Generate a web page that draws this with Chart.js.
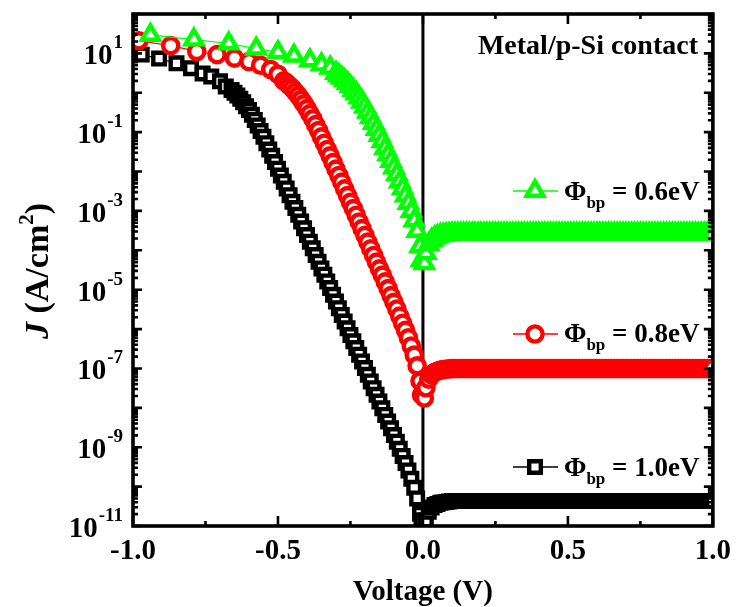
<!DOCTYPE html>
<html>
<head>
<meta charset="utf-8">
<script src="https://cdn.jsdelivr.net/npm/chart.js@4.4.1/dist/chart.umd.min.js"></script>
<style>
  html, body { margin: 0; padding: 0; background: #ffffff; }
  #wrap { width: 739px; height: 607px; position: relative; }
</style>
</head>
<body>
<div id="wrap"><canvas id="jv"></canvas></div>
<script>
// Current density J (A/cm^2) versus applied voltage (V) for a metal/p-Si contact,
// three hole barrier heights. Forward-side points (V < 0) per curve:
const vGreen = [-0.94, -0.79, -0.67, -0.575, -0.50, -0.445, -0.39, -0.35, -0.32,
  -0.30, -0.29, -0.28, -0.27, -0.26, -0.25, -0.24, -0.23, -0.22, -0.21,
  -0.20, -0.19, -0.18, -0.17, -0.16, -0.15, -0.14, -0.13, -0.12, -0.11,
  -0.10, -0.09, -0.08, -0.07, -0.06, -0.05, -0.04, -0.03, -0.02, -0.01,
  -0.005, 0.005];
const jGreen = [29.5, 22.4, 17.8, 13.2, 10.7, 8.7, 6.6, 5.2, 4.3,
  3.16, 2.75, 2.40, 2.04, 1.74, 1.45, 1.17, 0.955, 0.759, 0.589,
  0.447, 0.331, 0.240, 0.170, 0.120, 8.51e-2, 5.89e-2, 3.98e-2, 2.75e-2, 1.86e-2,
  1.26e-2, 8.51e-3, 5.62e-3, 3.72e-3, 2.45e-3, 1.58e-3, 9.77e-4, 5.75e-4, 3.09e-4, 1.26e-4,
  5.62e-5, 4.68e-5];

const vRed = [-0.98, -0.87, -0.78, -0.71, -0.65, -0.60, -0.56, -0.525, -0.50,
  -0.48, -0.47, -0.46, -0.45, -0.44, -0.43, -0.42, -0.41,
  -0.40, -0.39, -0.38, -0.37, -0.36, -0.35, -0.34, -0.33, -0.32, -0.31,
  -0.30, -0.29, -0.28, -0.27, -0.26, -0.25, -0.24, -0.23, -0.22, -0.21,
  -0.20, -0.19, -0.18, -0.17, -0.16, -0.15, -0.14, -0.13, -0.12, -0.11,
  -0.10, -0.09, -0.08, -0.07, -0.06, -0.05, -0.04, -0.03, -0.02, -0.01,
  -0.005, 0.005];
const jRed = [20.9, 15.8, 11.2, 9.3, 7.6, 6.2, 5.0, 3.9, 2.95,
  2.0, 1.78, 1.51, 1.29, 1.05, 0.85, 0.676, 0.525,
  0.398, 0.295, 0.219, 0.155, 0.110, 7.59e-2, 5.25e-2, 3.63e-2, 2.51e-2, 1.70e-2,
  1.15e-2, 7.94e-3, 5.37e-3, 3.63e-3, 2.45e-3, 1.66e-3, 1.15e-3, 7.76e-4, 5.25e-4, 3.55e-4,
  2.40e-4, 1.62e-4, 1.10e-4, 7.41e-5, 5.01e-5, 3.39e-5, 2.34e-5, 1.58e-5, 1.07e-5, 7.08e-6,
  4.79e-6, 3.24e-6, 2.14e-6, 1.41e-6, 9.33e-7, 6.03e-7, 3.72e-7, 2.19e-7, 1.17e-7, 4.79e-8,
  2.14e-8, 1.78e-8];

const vBlack = [-0.97, -0.91, -0.85, -0.80, -0.76, -0.73, -0.70, -0.68, -0.66,
  -0.65, -0.64, -0.63, -0.62, -0.61,
  -0.60, -0.59, -0.58, -0.57, -0.56, -0.55, -0.54, -0.53, -0.52, -0.51,
  -0.50, -0.49, -0.48, -0.47, -0.46, -0.45, -0.44, -0.43, -0.42, -0.41,
  -0.40, -0.39, -0.38, -0.37, -0.36, -0.35, -0.34, -0.33, -0.32, -0.31,
  -0.30, -0.29, -0.28, -0.27, -0.26, -0.25, -0.24, -0.23, -0.22, -0.21,
  -0.20, -0.19, -0.18, -0.17, -0.16, -0.15, -0.14, -0.13, -0.12, -0.11,
  -0.10, -0.09, -0.08, -0.07, -0.06, -0.05, -0.04, -0.03, -0.02, -0.01,
  -0.005];
const jBlack = [9.3, 7.4, 5.6, 4.2, 3.1, 2.6, 1.95, 1.45, 1.17,
  1.0, 0.85, 0.71, 0.575, 0.457,
  0.363, 0.275, 0.204, 0.148, 0.107, 7.59e-2, 5.25e-2, 3.63e-2, 2.51e-2, 1.74e-2,
  1.18e-2, 7.94e-3, 5.50e-3, 3.72e-3, 2.51e-3, 1.70e-3, 1.18e-3, 7.94e-4, 5.37e-4, 3.63e-4,
  2.45e-4, 1.66e-4, 1.12e-4, 7.59e-5, 5.13e-5, 3.47e-5, 2.40e-5, 1.62e-5, 1.10e-5, 7.41e-6,
  5.01e-6, 3.39e-6, 2.29e-6, 1.55e-6, 1.05e-6, 7.08e-7, 4.90e-7, 3.31e-7, 2.24e-7, 1.51e-7,
  1.02e-7, 6.92e-8, 4.68e-8, 3.16e-8, 2.14e-8, 1.45e-8, 9.77e-9, 6.61e-9, 4.47e-9, 3.02e-9,
  2.04e-9, 1.38e-9, 9.12e-10, 6.03e-10, 3.98e-10, 2.57e-10, 1.58e-10, 9.33e-11, 5.01e-11, 2.04e-11,
  1.4e-11];

// Reverse side (V > 0), shared voltage grid
const vFlat = [
  0.01, 0.02, 0.03, 0.04, 0.05, 0.06, 0.07, 0.08, 0.09, 0.10,
  0.11, 0.12, 0.13, 0.14, 0.15, 0.16, 0.17, 0.18, 0.19, 0.20,
  0.21, 0.22, 0.23, 0.24, 0.25, 0.26, 0.27, 0.28, 0.29, 0.30,
  0.31, 0.32, 0.33, 0.34, 0.35, 0.36, 0.37, 0.38, 0.39, 0.40,
  0.41, 0.42, 0.43, 0.44, 0.45, 0.46, 0.47, 0.48, 0.49, 0.50,
  0.51, 0.52, 0.53, 0.54, 0.55, 0.56, 0.57, 0.58, 0.59, 0.60,
  0.61, 0.62, 0.63, 0.64, 0.65, 0.66, 0.67, 0.68, 0.69, 0.70,
  0.71, 0.72, 0.73, 0.74, 0.75, 0.76, 0.77, 0.78, 0.79, 0.80,
  0.81, 0.82, 0.83, 0.84, 0.85, 0.86, 0.87, 0.88, 0.89, 0.90,
  0.91, 0.92, 0.93, 0.94, 0.95, 0.96, 0.97, 0.98, 0.99, 1.00];
const jGreenFlat = [
  8.51e-5, 1.41e-4, 1.82e-4, 2.09e-4, 2.24e-4, 2.40e-4, 2.45e-4, 2.51e-4, 2.57e-4, 2.6e-4,
  2.6e-4, 2.6e-4, 2.6e-4, 2.6e-4, 2.6e-4, 2.6e-4, 2.6e-4, 2.6e-4, 2.6e-4, 2.6e-4,
  2.6e-4, 2.6e-4, 2.6e-4, 2.6e-4, 2.6e-4, 2.6e-4, 2.6e-4, 2.6e-4, 2.6e-4, 2.6e-4,
  2.6e-4, 2.6e-4, 2.6e-4, 2.6e-4, 2.6e-4, 2.6e-4, 2.6e-4, 2.6e-4, 2.6e-4, 2.6e-4,
  2.6e-4, 2.6e-4, 2.6e-4, 2.6e-4, 2.6e-4, 2.6e-4, 2.6e-4, 2.6e-4, 2.6e-4, 2.6e-4,
  2.6e-4, 2.6e-4, 2.6e-4, 2.6e-4, 2.6e-4, 2.6e-4, 2.6e-4, 2.6e-4, 2.6e-4, 2.6e-4,
  2.6e-4, 2.6e-4, 2.6e-4, 2.6e-4, 2.6e-4, 2.6e-4, 2.6e-4, 2.6e-4, 2.6e-4, 2.6e-4,
  2.6e-4, 2.6e-4, 2.6e-4, 2.6e-4, 2.6e-4, 2.6e-4, 2.6e-4, 2.6e-4, 2.6e-4, 2.6e-4,
  2.6e-4, 2.6e-4, 2.6e-4, 2.6e-4, 2.6e-4, 2.6e-4, 2.6e-4, 2.6e-4, 2.6e-4, 2.6e-4,
  2.6e-4, 2.6e-4, 2.6e-4, 2.6e-4, 2.6e-4, 2.6e-4, 2.6e-4, 2.6e-4, 2.6e-4, 2.6e-4];
const jRedFlat = [
  3.24e-8, 5.37e-8, 6.92e-8, 7.94e-8, 8.51e-8, 9.12e-8, 9.33e-8, 9.55e-8, 9.77e-8, 1.0e-7,
  1.0e-7, 1.0e-7, 1.0e-7, 1.0e-7, 1.0e-7, 1.0e-7, 1.0e-7, 1.0e-7, 1.0e-7, 1.0e-7,
  1.0e-7, 1.0e-7, 1.0e-7, 1.0e-7, 1.0e-7, 1.0e-7, 1.0e-7, 1.0e-7, 1.0e-7, 1.0e-7,
  1.0e-7, 1.0e-7, 1.0e-7, 1.0e-7, 1.0e-7, 1.0e-7, 1.0e-7, 1.0e-7, 1.0e-7, 1.0e-7,
  1.0e-7, 1.0e-7, 1.0e-7, 1.0e-7, 1.0e-7, 1.0e-7, 1.0e-7, 1.0e-7, 1.0e-7, 1.0e-7,
  1.0e-7, 1.0e-7, 1.0e-7, 1.0e-7, 1.0e-7, 1.0e-7, 1.0e-7, 1.0e-7, 1.0e-7, 1.0e-7,
  1.0e-7, 1.0e-7, 1.0e-7, 1.0e-7, 1.0e-7, 1.0e-7, 1.0e-7, 1.0e-7, 1.0e-7, 1.0e-7,
  1.0e-7, 1.0e-7, 1.0e-7, 1.0e-7, 1.0e-7, 1.0e-7, 1.0e-7, 1.0e-7, 1.0e-7, 1.0e-7,
  1.0e-7, 1.0e-7, 1.0e-7, 1.0e-7, 1.0e-7, 1.0e-7, 1.0e-7, 1.0e-7, 1.0e-7, 1.0e-7,
  1.0e-7, 1.0e-7, 1.0e-7, 1.0e-7, 1.0e-7, 1.0e-7, 1.0e-7, 1.0e-7, 1.0e-7, 1.0e-7];
const jBlackFlat = [
  1.38e-11, 2.29e-11, 2.95e-11, 3.39e-11, 3.63e-11, 3.89e-11, 3.98e-11, 4.07e-11, 4.17e-11, 4.3e-11,
  4.3e-11, 4.3e-11, 4.3e-11, 4.3e-11, 4.3e-11, 4.3e-11, 4.3e-11, 4.3e-11, 4.3e-11, 4.3e-11,
  4.3e-11, 4.3e-11, 4.3e-11, 4.3e-11, 4.3e-11, 4.3e-11, 4.3e-11, 4.3e-11, 4.3e-11, 4.3e-11,
  4.3e-11, 4.3e-11, 4.3e-11, 4.3e-11, 4.3e-11, 4.3e-11, 4.3e-11, 4.3e-11, 4.3e-11, 4.3e-11,
  4.3e-11, 4.3e-11, 4.3e-11, 4.3e-11, 4.3e-11, 4.3e-11, 4.3e-11, 4.3e-11, 4.3e-11, 4.3e-11,
  4.3e-11, 4.3e-11, 4.3e-11, 4.3e-11, 4.3e-11, 4.3e-11, 4.3e-11, 4.3e-11, 4.3e-11, 4.3e-11,
  4.3e-11, 4.3e-11, 4.3e-11, 4.3e-11, 4.3e-11, 4.3e-11, 4.3e-11, 4.3e-11, 4.3e-11, 4.3e-11,
  4.3e-11, 4.3e-11, 4.3e-11, 4.3e-11, 4.3e-11, 4.3e-11, 4.3e-11, 4.3e-11, 4.3e-11, 4.3e-11,
  4.3e-11, 4.3e-11, 4.3e-11, 4.3e-11, 4.3e-11, 4.3e-11, 4.3e-11, 4.3e-11, 4.3e-11, 4.3e-11,
  4.3e-11, 4.3e-11, 4.3e-11, 4.3e-11, 4.3e-11, 4.3e-11, 4.3e-11, 4.3e-11, 4.3e-11, 4.3e-11];

const barrierLabels = ['0.6eV', '0.8eV', '1.0eV'];
const xTickValues = [-1, -0.75, -0.5, -0.25, 0, 0.25, 0.5, 0.75, 1];
const xTickLabels = ['-1.0', '', '-0.5', '', '0.0', '', '0.5', '', '1.0'];
const yLabelExponents = [1, -1, -3, -5, -7, -9, -11];
const noteText = 'Metal/p-Si contact';

const FONT = '"Liberation Serif", "Times New Roman", Times, serif';
const GREEN = '#00ff00', RED = '#ff0000', BLACK = '#000000';
const MARK_W = 4.4;

function toPoints(v, j) { return v.map((x, i) => ({ x: x, y: j[i] })); }

// y tick marks: every decade plus 2..9 multiples
const yTickValues = [];
for (let e = -11; e <= 2; e++) {
  for (let k = 1; k <= 9; k++) {
    const val = k * Math.pow(10, e);
    if (val <= 1.0001e2) yTickValues.push({ value: val, major: k === 1 });
  }
}

const markers = [
  { style: 'triangle', color: GREEN, radius: 9.6, y: 191, base: 200 },
  { style: 'circle', color: RED, radius: 7.6, y: 334, base: 342 },
  { style: 'rect', color: BLACK, radius: 8.2, y: 467, base: 476 }
];

function markerPath(ctx, style, x, y, r) {
  ctx.beginPath();
  if (style === 'circle') {
    ctx.arc(x, y, r, 0, Math.PI * 2);
  } else if (style === 'rect') {
    const s = Math.SQRT1_2 * r;
    ctx.rect(x - s, y - s, 2 * s, 2 * s);
  } else {
    let a = 0;
    ctx.moveTo(x + Math.sin(a) * r, y - Math.cos(a) * r);
    a += 2 * Math.PI / 3;
    ctx.lineTo(x + Math.sin(a) * r, y - Math.cos(a) * r);
    a += 2 * Math.PI / 3;
    ctx.lineTo(x + Math.sin(a) * r, y - Math.cos(a) * r);
    ctx.closePath();
  }
}

const framePlugin = {
  id: 'originFrame',
  beforeDatasetsDraw(chart) {
    const { ctx, chartArea: a, scales: { x } } = chart;
    const px = x.getPixelForValue(0);
    ctx.save();
    ctx.strokeStyle = BLACK;
    ctx.lineWidth = 3;
    ctx.beginPath();
    ctx.moveTo(px, a.top);
    ctx.lineTo(px, a.bottom);
    ctx.stroke();
    ctx.restore();
  },
  afterDatasetsDraw(chart) {
    const { ctx, chartArea: a, scales: { x, y } } = chart;
    ctx.save();
    ctx.strokeStyle = BLACK;
    ctx.lineCap = 'butt';
    // inward tick marks on all four sides
    ctx.lineWidth = 2.6;
    yTickValues.forEach(t => {
      const py = y.getPixelForValue(t.value);
      const len = t.major ? 9 : 5;
      ctx.beginPath();
      ctx.moveTo(a.left, py); ctx.lineTo(a.left + len, py);
      ctx.moveTo(a.right, py); ctx.lineTo(a.right - len, py);
      ctx.stroke();
    });
    xTickValues.forEach((v, i) => {
      const px = x.getPixelForValue(v);
      const len = xTickLabels[i] ? 10 : 5;
      ctx.beginPath();
      ctx.moveTo(px, a.bottom); ctx.lineTo(px, a.bottom - len);
      ctx.moveTo(px, a.top); ctx.lineTo(px, a.top + len);
      ctx.stroke();
    });
    // frame
    ctx.lineWidth = 3.6;
    ctx.lineJoin = 'miter';
    ctx.strokeRect(a.left, a.top, a.right - a.left, a.bottom - a.top);
    ctx.restore();
  },
  afterDraw(chart) {
    const { ctx, chartArea: a, scales: { y } } = chart;
    ctx.save();
    ctx.fillStyle = BLACK;
    ctx.textAlign = 'left';
    ctx.textBaseline = 'alphabetic';

    // y tick labels as powers of ten
    yLabelExponents.forEach(e => {
      const py = y.getPixelForValue(Math.pow(10, e));
      const exp = String(e);
      ctx.font = 'bold 19px ' + FONT;
      const we = ctx.measureText(exp).width;
      ctx.font = 'bold 29px ' + FONT;
      const wb = ctx.measureText('10').width;
      const right = 123;
      const base = py + 11;
      ctx.fillText('10', right - we - wb - 1, base);
      ctx.font = 'bold 19px ' + FONT;
      ctx.fillText(exp, right - we, base - 16);
    });

    // y axis title: J (A/cm^2)
    ctx.save();
    ctx.translate(48, (a.top + a.bottom) / 2 + 1);
    ctx.rotate(-Math.PI / 2);
    const parts = [
      { t: 'J', f: 'italic bold 34px ' + FONT, dy: 0 },
      { t: ' (A/cm', f: 'bold 34px ' + FONT, dy: 0 },
      { t: '2', f: 'bold 21px ' + FONT, dy: -15 },
      { t: ')', f: 'bold 34px ' + FONT, dy: 0 }
    ];
    let total = 0;
    parts.forEach(p => { ctx.font = p.f; p.w = ctx.measureText(p.t).width; total += p.w; });
    let cx = -total / 2;
    parts.forEach(p => { ctx.font = p.f; ctx.fillText(p.t, cx, p.dy); cx += p.w; });
    ctx.restore();

    // note in the upper right corner
    ctx.font = 'bold 28px ' + FONT;
    ctx.textAlign = 'right';
    ctx.fillText(noteText, 698, 54);
    ctx.textAlign = 'left';

    // legend entries
    markers.forEach((m, i) => {
      ctx.strokeStyle = m.color;
      ctx.lineWidth = 1.5;
      ctx.beginPath();
      ctx.moveTo(513, m.y); ctx.lineTo(558, m.y);
      ctx.stroke();
      ctx.lineWidth = MARK_W;
      ctx.fillStyle = '#ffffff';
      markerPath(ctx, m.style, 535, m.y, m.radius);
      ctx.fill();
      ctx.stroke();
      ctx.fillStyle = BLACK;
      let tx = 564;
      ctx.font = 'bold 27px ' + FONT;
      ctx.fillText('\u03A6', tx, m.base);
      tx += ctx.measureText('\u03A6').width;
      ctx.font = 'bold 17px ' + FONT;
      ctx.fillText('bp', tx, m.base + 8);
      tx += ctx.measureText('bp').width;
      ctx.font = 'bold 27px ' + FONT;
      ctx.fillText(' = ' + barrierLabels[i], tx, m.base);
    });
    ctx.restore();
  }
};

function seriesStyle(color, style, radius) {
  return {
    showLine: true,
    borderColor: color,
    borderWidth: 1.2,
    backgroundColor: '#ffffff',
    pointStyle: style,
    pointRadius: radius,
    pointHoverRadius: radius,
    pointBorderWidth: MARK_W,
    pointHoverBorderWidth: MARK_W,
    pointBorderColor: color,
    pointBackgroundColor: '#ffffff'
  };
}

new Chart(document.getElementById('jv'), {
  type: 'scatter',
  data: {
    datasets: [
      Object.assign({ label: '\u03A6bp = ' + barrierLabels[0], order: 0,
        data: toPoints(vGreen, jGreen).concat(toPoints(vFlat, jGreenFlat)) },
        seriesStyle(GREEN, 'triangle', 9.6)),
      Object.assign({ label: '\u03A6bp = ' + barrierLabels[1], order: 1,
        data: toPoints(vRed, jRed).concat(toPoints(vFlat, jRedFlat)) },
        seriesStyle(RED, 'circle', 7.6)),
      Object.assign({ label: '\u03A6bp = ' + barrierLabels[2], order: 2,
        data: toPoints(vBlack, jBlack).concat(toPoints(vFlat, jBlackFlat)) },
        seriesStyle(BLACK, 'rect', 8.2))
    ]
  },
  options: {
    responsive: true,
    maintainAspectRatio: false,
    animation: false,
    events: [],
    layout: { padding: { left: 0, right: 22, top: 12.5, bottom: 0 } },
    plugins: { legend: { display: false }, tooltip: { enabled: false } },
    scales: {
      x: {
        type: 'linear', position: 'bottom', min: -1, max: 1,
        afterBuildTicks: s => { s.ticks = xTickValues.map(v => ({ value: v })); },
        afterFit: s => { s.height = 81; },
        grid: { display: false, drawTicks: false },
        border: { display: false },
        ticks: {
          autoSkip: false, maxRotation: 0, padding: 8, color: BLACK,
          font: { family: FONT, size: 29, weight: 'bold' },
          callback: (v, i) => xTickLabels[i]
        },
        title: {
          display: true, text: 'Voltage (V)', color: BLACK,
          font: { family: FONT, size: 29, weight: 'bold', lineHeight: 1.0 },
          padding: { top: 0, bottom: 0 }
        }
      },
      y: {
        type: 'logarithmic', min: 1e-11, max: 1e2,
        afterBuildTicks: s => { s.ticks = yTickValues.map(t => ({ value: t.value })); },
        afterFit: s => { s.width = 133; },
        grid: { display: false, drawTicks: false },
        border: { display: false },
        ticks: { display: false }
      }
    }
  },
  plugins: [framePlugin]
});
</script>
</body>
</html>
